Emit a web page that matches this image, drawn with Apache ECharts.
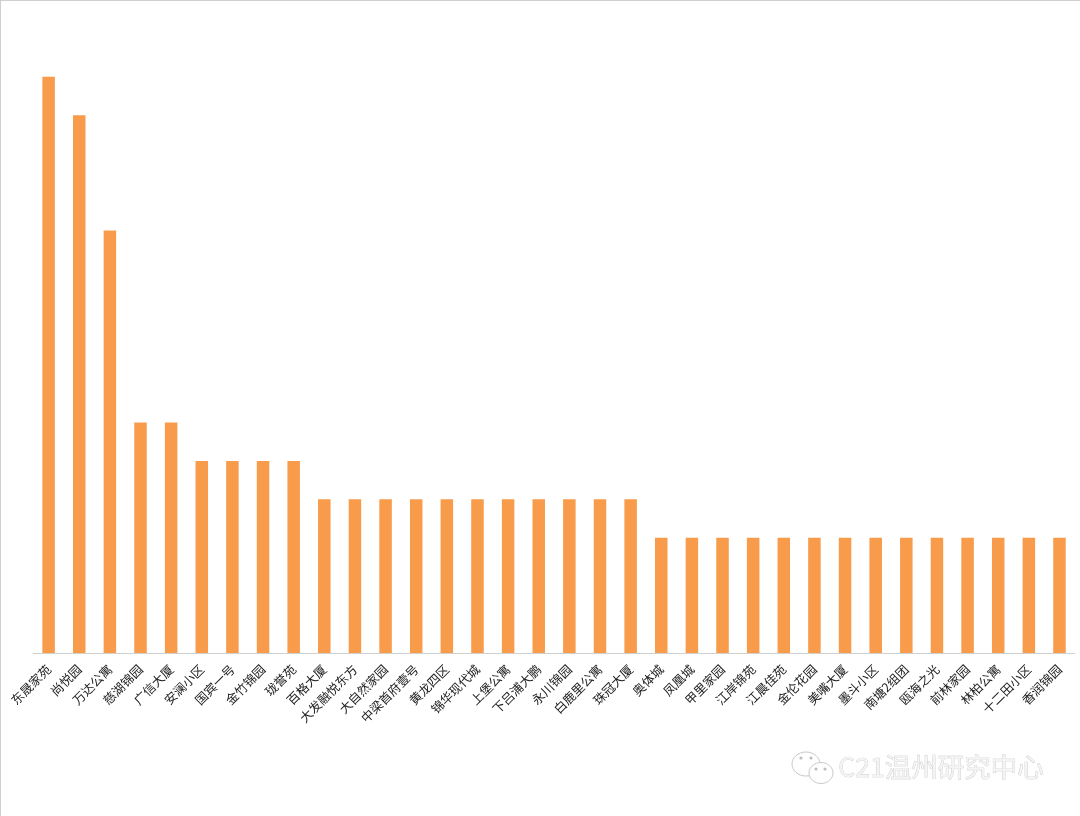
<!DOCTYPE html>
<html>
<head>
<meta charset="utf-8">
<style>
  html, body { margin: 0; padding: 0; background: #fff; }
  #chart { width: 1080px; height: 816px; }
</style>
</head>
<body>
<div id="chart"></div>
<script src="https://cdn.jsdelivr.net/npm/echarts@6/dist/echarts.min.js"></script>
<script>
const categories = ['东晟家苑', '尚悦园', '万达公寓', '慈湖锦园', '广信大厦', '安澜小区', '国宾一号', '金竹锦园', '珑誉苑', '百格大厦',
  '大发融悦东方', '大自然家园', '中梁首府壹号', '黄龙四区', '锦华现代城', '上堡公寓', '下吕浦大鹏', '永川锦园', '白鹿里公寓', '珠冠大厦',
  '奥体城', '凤凰城', '甲里家园', '江岸锦苑', '江晨佳苑', '金伦花园', '美嘴大厦', '墨斗小区', '南塘2组团', '瓯海之光',
  '前林家园', '林柏公寓', '十二田小区', '香润锦园']
const values = [15, 14, 11, 6, 6, 5, 5, 5, 5, 4,
  4, 4, 4, 4, 4, 4, 4, 4, 4, 4,
  3, 3, 3, 3, 3, 3, 3, 3, 3, 3,
  3, 3, 3, 3]
const watermark = 'C21温州研究中心'

const chart = echarts.init(document.getElementById('chart'))

// 微信图标用的线条颜色
const iconLine = '#c9c9c9'

chart.setOption({
  animation: false,
  backgroundColor: '#fff',
  grid: { left: 33.3, right: 5.2, top: 38.4, bottom: 163, containLabel: false },
  xAxis: {
    type: 'category',
    data: categories,
    axisTick: { show: false },
    axisLine: { lineStyle: { color: '#d0d0d0', width: 1 } },
    axisLabel: {
      interval: 0,
      rotate: 45,
      margin: 14,
      fontSize: 12.5,
      color: '#222',
      fontFamily: '"Noto Sans CJK SC"'
    }
  },
  yAxis: {
    type: 'value',
    min: 0,
    max: 16,
    interval: 2,
    show: false
  },
  series: [
    {
      type: 'bar',
      data: values,
      barWidth: 12.5,
      itemStyle: { color: '#f89b4a' }
    }
  ],
  graphic: [
    // 左边和上边的灰色边框
    { type: 'line', silent: true, shape: { x1: 0.5, y1: 0, x2: 0.5, y2: 816 }, style: { stroke: '#cfcfcf', lineWidth: 1 } },
    { type: 'line', silent: true, shape: { x1: 0, y1: 0.5, x2: 1080, y2: 0.5 }, style: { stroke: '#cfcfcf', lineWidth: 1 } },
    // 水印
    { type: 'ellipse', silent: true, shape: { cx: 806, cy: 764, rx: 14, ry: 12 }, style: { fill: '#fff', stroke: iconLine, lineWidth: 1 } },
    { type: 'ellipse', silent: true, shape: { cx: 821, cy: 773, rx: 12, ry: 10.5 }, style: { fill: '#fff', stroke: iconLine, lineWidth: 1 } },
    { type: 'circle', silent: true, shape: { cx: 801, cy: 758, r: 1.6 }, style: { fill: '#bdbdbd' } },
    { type: 'circle', silent: true, shape: { cx: 811, cy: 758, r: 1.6 }, style: { fill: '#bdbdbd' } },
    { type: 'circle', silent: true, shape: { cx: 816, cy: 769, r: 1.6 }, style: { fill: '#bdbdbd' } },
    { type: 'circle', silent: true, shape: { cx: 825, cy: 769, r: 1.6 }, style: { fill: '#bdbdbd' } },
    {
      type: 'text',
      silent: true,
      left: 838,
      top: 753,
      style: {
        text: watermark,
        fontSize: 26.5,
        fontFamily: '"Noto Sans CJK SC"',
        fill: '#f4f4f4',
        stroke: '#c4c4c4',
        lineWidth: 0.7
      }
    }
  ]
})
window.addEventListener('resize', () => {
  chart.resize()
})
</script>
</body>
</html>
